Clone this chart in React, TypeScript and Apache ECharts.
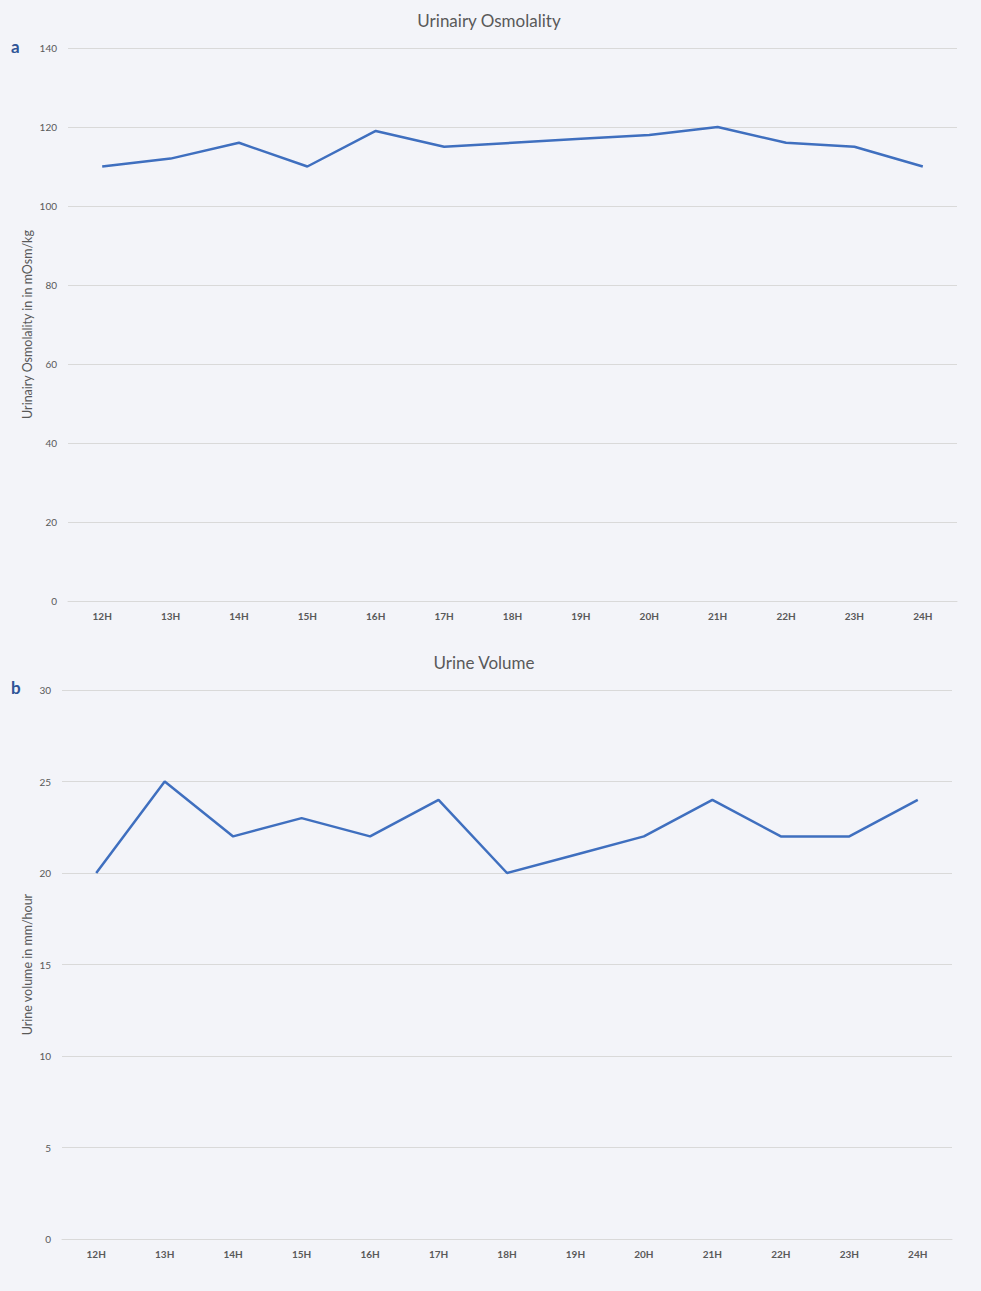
import React, { useEffect, useRef } from "react";
import * as echarts from "echarts";

const hours = ["12H", "13H", "14H", "15H", "16H", "17H", "18H", "19H", "20H", "21H", "22H", "23H", "24H"];
const osmolality = [110, 112, 116, 110, 119, 115, 116, 117, 118, 120, 116, 115, 110];
const urineVolume = [20, 25, 22, 23, 22, 24, 20, 21, 22, 24, 22, 22, 24];
const osmTicks = { min: 0, max: 140, interval: 20 };
const volTicks = { min: 0, max: 30, interval: 5 };

const FONT = "Lato, 'Open Sans', sans-serif";
const TXT = "#595959";
const GRID = "#d9d9d9";
const LINE = "#3f6fbf";

export default function App() {
  const ref = useRef<HTMLDivElement>(null);
  useEffect(() => {
    if (!ref.current) return;
    const chart = echarts.init(ref.current, undefined, { renderer: "svg" });
    const xAxisBase = (gridIndex: number) => ({
      type: "category" as const,
      gridIndex,
      data: hours,
      boundaryGap: true,
      axisLine: { show: true, lineStyle: { color: GRID, width: 1 } },
      axisTick: { show: false },
      axisLabel: { color: TXT, fontSize: 10, fontFamily: FONT, fontWeight: "bold" as const, margin: 10 },
    });
    const yAxisBase = (gridIndex: number, t: any, name: string, gap: number) => ({
      type: "value" as const,
      gridIndex,
      min: t.min,
      max: t.max,
      interval: t.interval,
      name,
      nameLocation: "middle" as const,
      nameGap: gap,
      nameMoveOverlap: false,
      nameTextStyle: { color: TXT, fontSize: 12.5, fontFamily: FONT },
      axisLine: { show: false },
      axisTick: { show: false },
      axisLabel: { color: TXT, fontSize: 10, fontFamily: FONT, margin: 11 },
      splitLine: { lineStyle: { color: GRID, width: 1 } },
    });
    chart.setOption({
      animation: false,
      backgroundColor: "#f3f4f9",
      title: [
        { text: "Urinairy Osmolality", left: 484, top: 7, textAlign: "center", textStyle: { color: TXT, fontSize: 17, fontWeight: "normal", fontFamily: FONT } },
        { text: "Urine Volume", left: 479, top: 649, textAlign: "center", textStyle: { color: TXT, fontSize: 17, fontWeight: "normal", fontFamily: FONT } },
      ],
      graphic: [
        { type: "text", left: 11, top: 38, style: { text: "a", fill: "#2f5597", font: `bold 17px ${FONT}` } },
        { type: "text", left: 11, top: 679, style: { text: "b", fill: "#2f5597", font: `bold 17px ${FONT}` } },
      ],
      grid: [
        { left: 68, right: 24, top: 48, height: 553 },
        { left: 62, right: 29, top: 690, height: 549 },
      ],
      xAxis: [xAxisBase(0), xAxisBase(1)],
      yAxis: [
        yAxisBase(0, osmTicks, "Urinairy Osmolality in in mOsm/kg", 34),
        yAxisBase(1, volTicks, "Urine volume in mm/hour", 28),
      ],
      series: [
        { type: "line", xAxisIndex: 0, yAxisIndex: 0, data: osmolality, showSymbol: false, lineStyle: { color: LINE, width: 2.5 }, itemStyle: { color: LINE } },
        { type: "line", xAxisIndex: 1, yAxisIndex: 1, data: urineVolume, showSymbol: false, lineStyle: { color: LINE, width: 2.5 }, itemStyle: { color: LINE } },
      ],
    });
    return () => chart.dispose();
  }, []);
  return <div ref={ref} style={{ position: "absolute", left: 0, top: 0, width: 981, height: 1291 }} />;
}
